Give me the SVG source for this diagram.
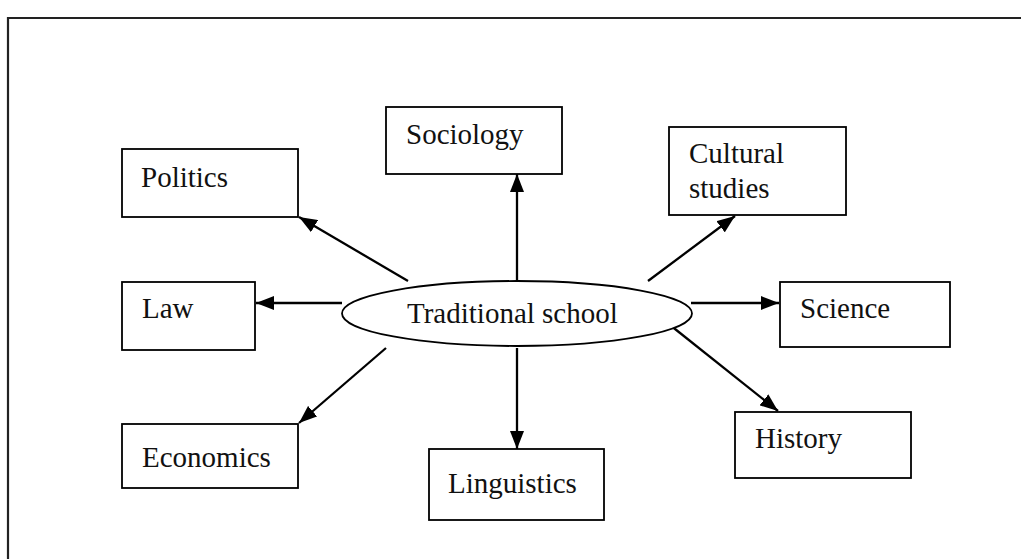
<svg xmlns="http://www.w3.org/2000/svg" width="1021" height="559" viewBox="0 0 1021 559">
<style>
.box{fill:#fff;stroke:#000;stroke-width:1.8}
.lbl{font-family:"Liberation Serif","Times New Roman",serif;font-size:29px;fill:#111}
.con{stroke:#000;stroke-width:2.3;fill:none;marker-end:url(#ah)}
.frame{stroke:#222;stroke-width:2.2;fill:none}
</style>
<defs>
<marker id="ah" viewBox="0 0 18 14" refX="18" refY="7" markerWidth="18" markerHeight="14" markerUnits="userSpaceOnUse" orient="auto">
<path d="M0,0 L18,7 L0,14 z" fill="#000"/>
</marker>
</defs>
<rect width="1021" height="559" fill="#fff"/>
<path class="frame" d="M8,559 L8,18 L1021,18"/>
<g id="connectors">
<line class="con" x1="517" y1="281" x2="517" y2="174"/>
<line class="con" x1="408" y1="281" x2="299" y2="217"/>
<line class="con" x1="648" y1="281" x2="735" y2="216"/>
<line class="con" x1="342" y1="303" x2="256" y2="303"/>
<line class="con" x1="691" y1="303" x2="779" y2="303"/>
<line class="con" x1="386" y1="348" x2="299" y2="423"/>
<line class="con" x1="517" y1="348" x2="517" y2="449"/>
<line class="con" x1="670" y1="325" x2="778" y2="411"/>
</g>
<g id="traditional">
<ellipse class="box" cx="517" cy="313.5" rx="175" ry="32.5"/>
<text class="lbl" x="407" y="323">Traditional school</text>
</g>
<g id="sociology">
<rect class="box" x="386" y="107" width="176" height="67"/>
<text class="lbl" x="406" y="144">Sociology</text>
</g>
<g id="politics">
<rect class="box" x="122" y="149" width="176" height="68"/>
<text class="lbl" x="141" y="187">Politics</text>
</g>
<g id="cultural">
<rect class="box" x="669" y="127" width="177" height="88"/>
<text class="lbl" x="689" y="163">Cultural</text>
<text class="lbl" x="689" y="198">studies</text>
</g>
<g id="law">
<rect class="box" x="122" y="282" width="133" height="68"/>
<text class="lbl" x="142" y="318">Law</text>
</g>
<g id="science">
<rect class="box" x="780" y="282" width="170" height="65"/>
<text class="lbl" x="800" y="318">Science</text>
</g>
<g id="economics">
<rect class="box" x="122" y="424" width="176" height="64"/>
<text class="lbl" x="142" y="467">Economics</text>
</g>
<g id="linguistics">
<rect class="box" x="429" y="449" width="175" height="71"/>
<text class="lbl" x="448" y="493">Linguistics</text>
</g>
<g id="history">
<rect class="box" x="735" y="412" width="176" height="66"/>
<text class="lbl" x="755" y="448">History</text>
</g>
</svg>
